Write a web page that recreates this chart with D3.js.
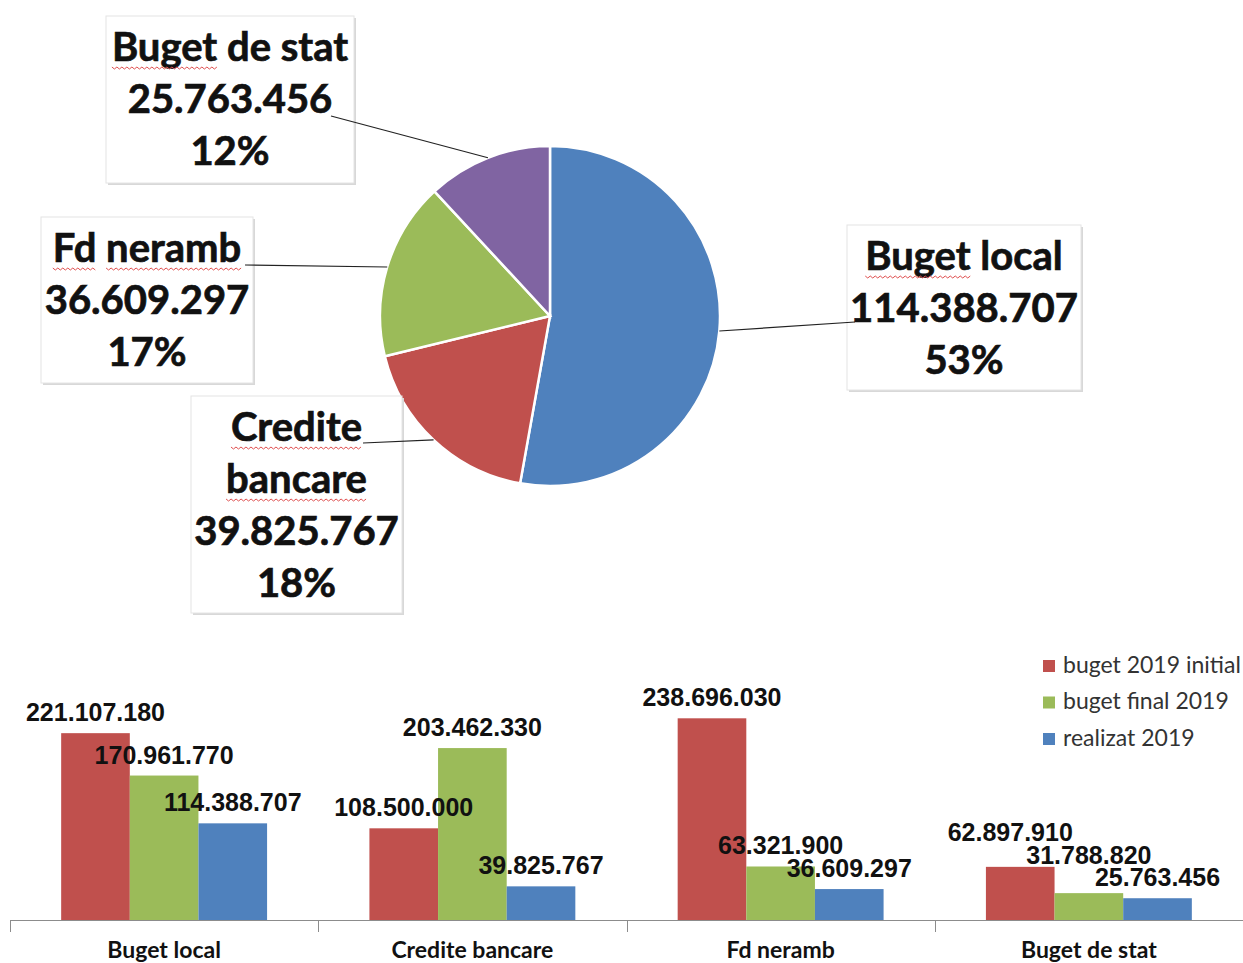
<!DOCTYPE html>
<html>
<head>
<meta charset="utf-8">
<script src="https://cdn.jsdelivr.net/npm/d3@7"></script>
<style>
  body { margin: 0; background: #fff; }
  svg { display: block; }
</style>
</head>
<body>
<svg id="chart"></svg>
<script>
// surse de finantare 2019
const categorii = ["Buget local", "Credite bancare", "Fd neramb", "Buget de stat"];
const serii = ["buget 2019 initial", "buget final 2019", "realizat 2019"];
const bugetInitial = [221107180, 108500000, 238696030, 62897910];
const bugetFinal = [170961770, 203462330, 63321900, 31788820];
const realizat = [114388707, 39825767, 36609297, 25763456];

const width = 1243, height = 963;
const svg = d3.select("#chart").attr("width", width).attr("height", height);

const ro = d3.formatLocale({decimal: ",", thousands: ".", grouping: [3], currency: ["", ""]});
const fmt = ro.format(",d");
const pct = d3.format(".0%");

// ---------- pie ----------
const pieColor = d3.scaleOrdinal(categorii, ["#4F81BD", "#C0504D", "#9BBB59", "#8064A2"]);
const cx = 550, cy = 316, r = 170;
const pieG = svg.append("g").attr("transform", `translate(${cx},${cy})`);
const pie = d3.pie().sort(null).value(d => d.v);
const arcs = pie(categorii.map((c, i) => ({c: c, v: realizat[i]})));
const total = d3.sum(realizat);
const arc = d3.arc().innerRadius(0).outerRadius(r);
const edge = d3.arc().innerRadius(r).outerRadius(r);

pieG.selectAll("path.slice").data(arcs).enter().append("path")
  .attr("class", "slice")
  .attr("d", arc)
  .attr("fill", d => pieColor(d.data.c))
  .attr("stroke", "#fff")
  .attr("stroke-width", 2.5);

// casetele cu etichete (pozitii luate din imagine)
const casete = {
  "Buget de stat": {x: 106, y: 16, w: 248, h: 167, ax: 331, ay: 116, wrap: false},
  "Fd neramb": {x: 41, y: 217, w: 212, h: 166, ax: 245, ay: 265, wrap: false},
  "Credite bancare": {x: 191, y: 396, w: 211, h: 217, ax: 363, ay: 443, wrap: true},
  "Buget local": {x: 847, y: 225, w: 234, h: 165, ax: 855, ay: 322, wrap: false}
};
const FONT = "Lato, 'Open Sans', sans-serif";

function latime(t) {
  const tmp = svg.append("text").attr("font-family", FONT)
    .attr("font-weight", 700).attr("font-size", 40).attr("xml:space", "preserve").text(t);
  const w = tmp.node().getComputedTextLength();
  tmp.remove();
  return w;
}

const labG = svg.append("g");
arcs.forEach(d => {
  const k = casete[d.data.c];
  const p = edge.centroid(d);
  labG.append("rect")
    .attr("x", k.x + 2).attr("y", k.y + 2).attr("width", k.w).attr("height", k.h)
    .attr("fill", "#d8d8d8");
  labG.append("rect")
    .attr("x", k.x).attr("y", k.y).attr("width", k.w).attr("height", k.h)
    .attr("fill", "#fff").attr("stroke", "#e4e4e4");
  labG.append("line")
    .attr("x1", k.ax).attr("y1", k.ay)
    .attr("x2", cx + p[0]).attr("y2", cy + p[1])
    .attr("stroke", "#222").attr("stroke-width", 1.2);
  const nume = k.wrap ? d.data.c.split(" ") : [d.data.c];
  const rows = nume.concat([fmt(d.data.v), pct(d.data.v / total)]);
  rows.forEach((t, i) => {
    const by = k.y + 45 + i * 52;
    const tx = labG.append("text")
      .attr("x", k.x + k.w / 2).attr("y", by)
      .attr("text-anchor", "middle")
      .attr("font-family", FONT)
      .attr("font-weight", 700).attr("font-size", 40)
      .attr("fill", "#111").attr("stroke", "#111").attr("stroke-width", 0.7)
      .text(t);
    // sublinierea rosie de la corectorul ortografic
    if (i < nume.length) {
      let x = tx.node().getBBox().x;
      const sw = latime("a a") - latime("aa");
      t.split(" ").forEach(w => {
        const ww = latime(w);
        if (w !== "de" && w !== "stat" && w !== "local") {
          const pts = [];
          for (let s = 0; s <= ww; s += 2.5) pts.push([x + s, by + 6 + ((s / 2.5) % 2 ? 2 : 0)]);
          labG.append("path").attr("d", d3.line()(pts)).attr("fill", "none")
            .attr("stroke", "#e05050").attr("stroke-width", 1);
        }
        x += ww + sw;
      });
    }
  });
});

// ---------- bare ----------
const base = 920;
const x0 = d3.scaleBand().domain(categorii).range([10, 1243]).paddingInner(0.332).paddingOuter(0.166);
const x1 = d3.scaleBand().domain(serii).range([0, x0.bandwidth()]);
const y = d3.scaleLinear().domain([0, 300000000]).range([base, 666.5]);
const barColor = d3.scaleOrdinal(serii, ["#C0504D", "#9BBB59", "#4F81BD"]);
const valori = [bugetInitial, bugetFinal, realizat];

const rows = [];
categorii.forEach((c, i) => serii.forEach((s, j) => rows.push({c: c, s: s, v: valori[j][i]})));

// mici ajustari ale etichetelor suprapuse
const nudge = {"Buget de stat|buget 2019 initial": [-10, -14], "Buget de stat|buget final 2019": [0, -17]};
const nd = d => nudge[d.c + "|" + d.s] || [0, 0];

const barG = svg.append("g");
barG.selectAll("rect").data(rows).enter().append("rect")
  .attr("x", d => x0(d.c) + x1(d.s))
  .attr("y", d => y(d.v))
  .attr("width", x1.bandwidth())
  .attr("height", d => base - y(d.v))
  .attr("fill", d => barColor(d.s));

barG.selectAll("text").data(rows).enter().append("text")
  .attr("x", d => x0(d.c) + x1(d.s) + x1.bandwidth() / 2 + nd(d)[0])
  .attr("y", d => y(d.v) - 12 + nd(d)[1])
  .attr("text-anchor", "middle")
  .attr("font-family", "'Liberation Sans', Arial, sans-serif")
  .attr("font-weight", 700).attr("font-size", 25)
  .attr("fill", "#111")
  .text(d => fmt(d.v));

// axa
const axG = svg.append("g");
axG.append("line").attr("x1", 10).attr("x2", 1243).attr("y1", base + 0.5).attr("y2", base + 0.5)
  .attr("stroke", "#8c8c8c");
d3.range(categorii.length + 1).forEach(i => {
  const tx = Math.round(10 + i * x0.step()) + 0.5;
  axG.append("line").attr("x1", tx).attr("x2", tx).attr("y1", base).attr("y2", base + 12)
    .attr("stroke", "#8c8c8c");
});
axG.selectAll("text.cat").data(categorii).enter().append("text")
  .attr("class", "cat")
  .attr("x", d => x0(d) + x0.bandwidth() / 2)
  .attr("y", 958)
  .attr("text-anchor", "middle")
  .attr("font-family", "Lato, sans-serif")
  .attr("font-weight", 700).attr("font-size", 23)
  .attr("fill", "#111")
  .text(d => d);

// legenda
const leg = svg.append("g").attr("transform", "translate(1043,660)");
serii.forEach((s, i) => {
  const g = leg.append("g").attr("transform", `translate(0,${i * 36.5})`);
  g.append("rect").attr("width", 12).attr("height", 12).attr("fill", barColor(s));
  g.append("text").attr("x", 20).attr("y", 12.5)
    .attr("font-family", "Lato, sans-serif").attr("font-size", 23)
    .attr("fill", "#333").text(s);
});
</script>
</body>
</html>
